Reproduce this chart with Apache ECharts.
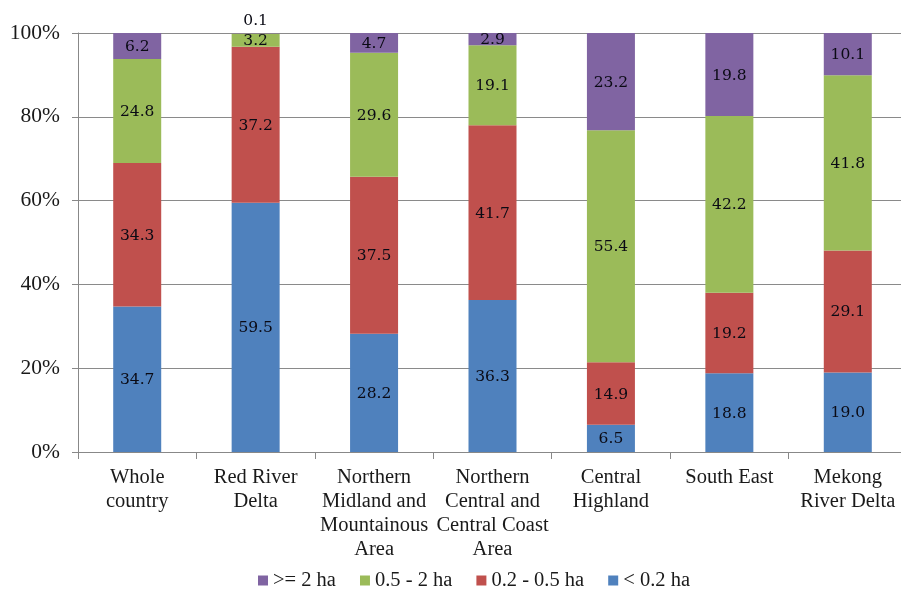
<!DOCTYPE html>
<html>
<head>
<meta charset="utf-8">
<script src="https://cdn.jsdelivr.net/npm/echarts@6/dist/echarts.min.js"></script>
<style>
  html, body { margin: 0; padding: 0; background: #fff; }
  #chart { width: 901px; height: 589px; }
</style>
</head>
<body>
<div id="chart"></div>
<script>
// Farm land size distribution by region (% of households)
const categories = [
  'Whole\ncountry',
  'Red River\nDelta',
  'Northern\nMidland and\nMountainous\nArea',
  'Northern\nCentral and\nCentral Coast\nArea',
  'Central\nHighland',
  'South East',
  'Mekong\nRiver Delta'
];
const seriesNames = ['< 0.2 ha', '0.2 - 0.5 ha', '0.5 - 2 ha', '>= 2 ha'];
const under02 = [34.7, 59.5, 28.2, 36.3, 6.5, 18.8, 19.0];
const from02to05 = [34.3, 37.2, 37.5, 41.7, 14.9, 19.2, 29.1];
const from05to2 = [24.8, 3.2, 29.6, 19.1, 55.4, 42.2, 41.8];
const over2 = [6.2, 0.1, 4.7, 2.9, 23.2, 19.8, 10.1];
const yTicks = [0, 20, 40, 60, 80, 100];

const colors = ['#4F81BD', '#C0504D', '#9BBB59', '#8064A2'];
const valueSets = [under02, from02to05, from05to2, over2];

const labelFont = {
  fontFamily: 'DejaVu Serif',
  fontSize: 15.5,
  color: '#0a0a14'
};

const series = valueSets.map((vals, i) => ({
  name: seriesNames[i],
  type: 'bar',
  stack: 'total',
  barWidth: 48,
  itemStyle: { color: colors[i] },
  label: Object.assign({
    show: true,
    position: 'inside',
    offset: [0, 1],
    formatter: p => Number(p.value).toFixed(1)
  }, labelFont),
  // very thin segments get their label above the bar
  data: vals.map(v => v < 1 ? { value: v, label: { position: 'top', distance: 4, offset: [0, 0] } } : v)
}));

const chart = echarts.init(document.getElementById('chart'));
chart.setOption({
  animation: false,
  backgroundColor: '#fff',
  grid: { left: 78, top: 33, width: 829, height: 419, containLabel: false, outerBoundsMode: 'none' },
  legend: {
    data: seriesNames.slice().reverse(),
    left: 258,
    top: 570,
    padding: 0,
    itemWidth: 10,
    itemHeight: 10,
    itemGap: 24,
    icon: 'rect',
    textStyle: { fontFamily: 'Liberation Serif', fontSize: 20.5, color: '#1a1a1a' }
  },
  xAxis: {
    type: 'category',
    data: categories,
    axisLine: { lineStyle: { color: '#888', width: 1 } },
    axisTick: { show: true, length: 7, lineStyle: { color: '#888' } },
    axisLabel: {
      interval: 0,
      margin: 14,
      fontFamily: 'Liberation Serif',
      fontSize: 20.5,
      lineHeight: 24,
      color: '#1a1a1a'
    }
  },
  yAxis: {
    type: 'value',
    min: yTicks[0],
    max: yTicks[yTicks.length - 1],
    interval: 20,
    axisLine: { show: true, lineStyle: { color: '#888', width: 1 } },
    axisTick: { show: true, length: 6, lineStyle: { color: '#888' } },
    splitLine: { show: true, lineStyle: { color: '#8a8a8a', width: 1 } },
    axisLabel: {
      margin: 18,
      formatter: '{value}%',
      fontFamily: 'Liberation Serif',
      fontSize: 21.5,
      color: '#1a1a1a'
    }
  },
  series: series
});
</script>
</body>
</html>
